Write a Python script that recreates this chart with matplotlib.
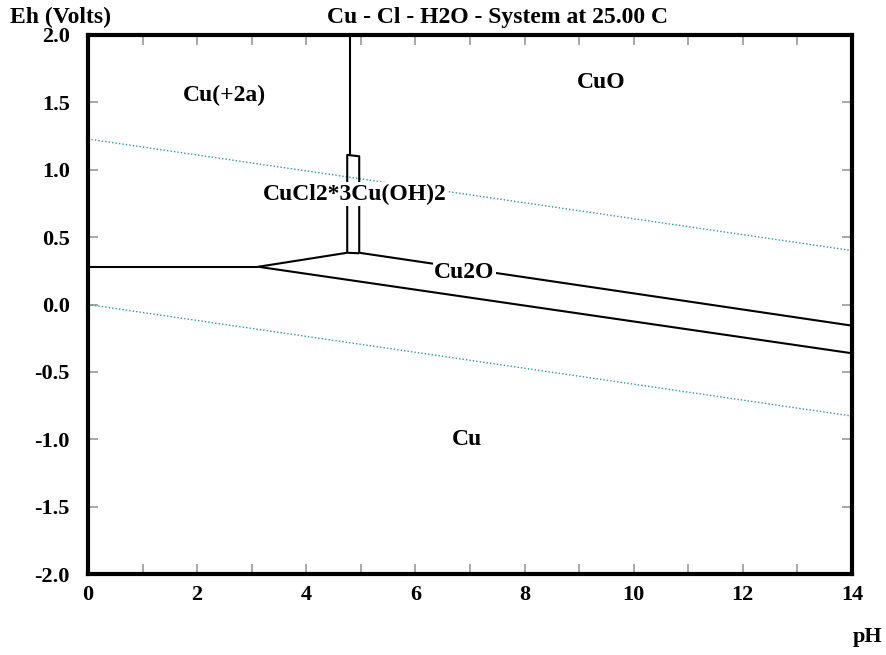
import numpy as np
import matplotlib.pyplot as plt
from matplotlib.ticker import MultipleLocator

# boundary lines of the Eh-pH diagram (pH, Eh)
cu2_cu_ph = [0.0, 3.12]
cu2_cu_eh = [0.28, 0.28]
cu2_cu2o_ph = [3.12, 4.75]
cu2_cu2o_eh = [0.28, 0.384]
cu2o_cu_ph = [3.12, 14.0]
cu2o_cu_eh = [0.28, -0.362]
cuo_cu2o_ph = [4.97, 14.0]
cuo_cu2o_eh = [0.384, -0.157]
cu2_cuo_ph = [4.81, 4.81]
cu2_cuo_eh = [2.0, 1.11]
# narrow CuCl2*3Cu(OH)2 field
box_ph = [4.75, 4.75, 4.97, 4.97]
box_eh = [0.384, 1.11, 1.10, 0.384]
box_base_ph = [4.75, 4.97]
box_base_eh = [0.384, 0.380]

# water stability lines
water_ph = [0.0, 14.0]
o2_eh = [1.228, 0.400]
h2_eh = [0.0, -0.828]

labels = ['Cu(+2a)', 'CuO', 'CuCl2*3Cu(OH)2', 'Cu2O', 'Cu']
label_ph = [2.5, 9.4, 4.88, 6.9, 6.94]
label_eh = [1.55, 1.65, 0.82, 0.24, -1.0]

plt.rcParams['font.family'] = ['Liberation Serif', 'DejaVu Serif']
plt.rcParams['font.weight'] = 'bold'

fig = plt.figure(figsize=(8.87, 6.55), dpi=100)
ax = fig.add_axes([88/887, 1-574/655, (852-88)/887, (574-35)/655])

teal = '#2a9a9a'
ax.plot(water_ph, o2_eh, color=teal, lw=1.0, ls=(0, (1, 1.5)))
ax.plot(water_ph, h2_eh, color=teal, lw=1.0, ls=(0, (1, 1.5)))

kw = dict(color='black', lw=1.5, solid_capstyle='butt')
ax.plot(cu2_cu_ph, cu2_cu_eh, **kw)
ax.plot(cu2_cu2o_ph, cu2_cu2o_eh, **kw)
ax.plot(cu2o_cu_ph, cu2o_cu_eh, **kw)
ax.plot(cuo_cu2o_ph, cuo_cu2o_eh, **kw)
ax.plot(cu2_cuo_ph, cu2_cuo_eh, **kw)
ax.plot(box_ph, box_eh, **kw)
ax.plot(box_base_ph, box_base_eh, **kw)

for i in range(len(labels)):
    t = ax.text(label_ph[i], label_eh[i], labels[i], fontsize=17, fontweight='bold',
                ha='center', va='center', zorder=5)
    if labels[i] in ('CuCl2*3Cu(OH)2', 'Cu2O'):
        t.set_bbox(dict(facecolor='white', edgecolor='none', pad=1))

ax.set_xlim(0, 14)
ax.set_ylim(-2, 2)
ax.xaxis.set_minor_locator(MultipleLocator(1))
ax.set_xticks(np.arange(0, 15, 2))
ax.set_xticklabels([str(v) for v in range(0, 15, 2)])
ax.set_yticks(np.arange(-2.0, 2.01, 0.5))
ax.set_yticklabels(['%.1f' % v for v in np.arange(-2.0, 2.01, 0.5)])
ax.tick_params(axis='both', which='both', direction='in', color='#999999',
               top=True, right=True, labelsize=16, width=1.2, length=7)
ax.tick_params(axis='x', pad=8)
ax.tick_params(axis='y', pad=13)
for s in ax.spines.values():
    s.set_linewidth(3)

fig.text(10/887, 1-17/655, 'Eh (Volts)', fontsize=17, fontweight='bold', va='center', ha='left')
fig.text(327/887, 1-17/655, 'Cu - Cl - H2O - System at 25.00 C', fontsize=17,
         fontweight='bold', va='center', ha='left')
fig.text(868/887, 1-637/655, 'pH', fontsize=16, fontweight='bold', va='center', ha='center')

fig.savefig('out.png', dpi=100)
